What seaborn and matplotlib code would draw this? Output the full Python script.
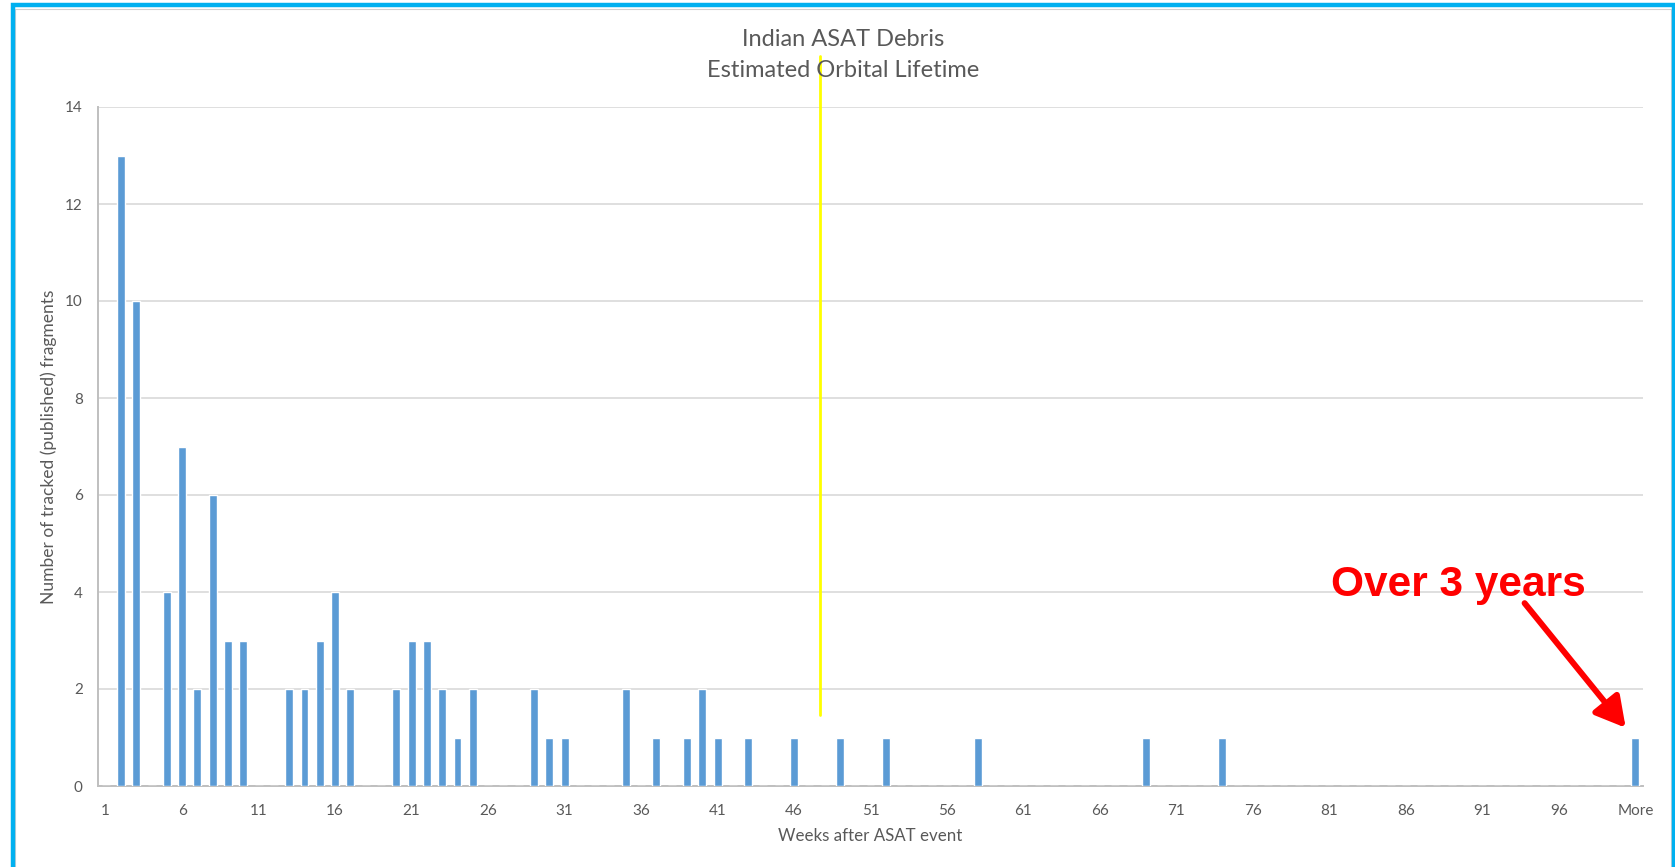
import matplotlib
matplotlib.use("Agg")
import matplotlib.pyplot as plt
from matplotlib.patches import Rectangle
from matplotlib.lines import Line2D
import seaborn as sns

# Histogram bins: weeks after the event, plus an overflow bin
week_bins = [str(w) for w in range(1, 101)] + ["More"]

# Fragment counts per bin (weeks 1..100, then "More")
fragments = [
    0, 13, 10, 0, 4, 7, 2, 6, 3, 3,      # 1-10
    0, 0, 2, 2, 3, 4, 2, 0, 0, 2,        # 11-20
    3, 3, 2, 1, 2, 0, 0, 0, 2, 1,        # 21-30
    1, 0, 0, 0, 2, 0, 1, 0, 1, 2,        # 31-40
    1, 0, 1, 0, 0, 1, 0, 0, 1, 0,        # 41-50
    0, 1, 0, 0, 0, 0, 0, 1, 0, 0,        # 51-60
    0, 0, 0, 0, 0, 0, 0, 0, 1, 0,        # 61-70
    0, 0, 0, 1, 0, 0, 0, 0, 0, 0,        # 71-80
    0, 0, 0, 0, 0, 0, 0, 0, 0, 0,        # 81-90
    0, 0, 0, 0, 0, 0, 0, 0, 0, 0,        # 91-100
    1,                                   # More
]

labelled_bins = week_bins[::5]          # 1, 6, 11, ..., 96, More
y_ticks = [0, 2, 4, 6, 8, 10, 12, 14]

title_lines = ["Indian ASAT Debris", "Estimated Orbital Lifetime"]
x_title = "Weeks after ASAT event"
y_title = "Number of tracked (published) fragments"

# Vertical marker line (in week units) and its vertical extent
marker_week = 47.7
marker_y = (1.46, 15.05)

note_text = "Over 3 years"

BAR = "#5B9BD5"
GRID = "#D9D9D9"
AXIS = "#BFBFBF"
TEXT = "#595959"

sns.set_theme(style="white")
plt.rcParams["font.family"] = ["Lato", "DejaVu Sans"]

W, H = 1675, 867
fig = plt.figure(figsize=(W / 100, H / 100), dpi=100)
fig.patch.set_facecolor("white")

ax = fig.add_axes([98 / W, 1 - 786 / H, (1643 - 98) / W, (786 - 107) / H])

sns.barplot(x=week_bins, y=fragments, color=BAR, width=0.52,
            saturation=1, ax=ax, zorder=3)

ax.set_xlim(-0.5, len(week_bins) - 0.5)
ax.set_ylim(0, 14)
ax.set_yticks(y_ticks)
ax.set_yticklabels([str(v) for v in y_ticks])

ax.set_xticks(range(len(week_bins)))
ax.set_xticklabels([lab if lab in labelled_bins else "" for lab in week_bins])

ax.grid(axis="y", color=GRID, linewidth=1.2, zorder=0)
ax.set_axisbelow(True)
ax.set_xlabel("")
ax.set_ylabel("")

for side in ["top", "right"]:
    ax.spines[side].set_visible(False)
for side in ["left", "bottom"]:
    ax.spines[side].set_color(AXIS)
    ax.spines[side].set_linewidth(1.4)

ax.tick_params(axis="x", direction="in", length=3, width=1.1, color=AXIS,
               labelsize=11, labelcolor=TEXT, pad=13)
ax.tick_params(axis="y", length=0, labelsize=11, labelcolor=TEXT, pad=11)

# Chart title
fig.text(843 / W, 1 - 46 / H, title_lines[0], ha="center", va="baseline",
         fontsize=17, color=TEXT, zorder=1)
fig.text(843 / W, 1 - 77 / H, title_lines[1], ha="center", va="baseline",
         fontsize=17, color=TEXT, zorder=1)

# Axis titles
fig.text(870 / W, 1 - 836 / H, x_title, ha="center", va="center",
         fontsize=12.2, color=TEXT)
fig.text(49 / W, 1 - 446.5 / H, y_title, ha="center", va="center",
         rotation=90, fontsize=12.5, color=TEXT)

# Yellow marker line, running up into the title area
mx = marker_week - 1
ax.add_line(Line2D([mx, mx], list(marker_y), color="#FFFF00", linewidth=2,
                   clip_on=False, zorder=10))

# Red call-out for the overflow bin
more_x = week_bins.index("More")
ax.annotate("", xy=(more_x - 0.63, fragments[more_x] + 0.2),
            xytext=(more_x - 7.24, 3.77),
            arrowprops=dict(arrowstyle="-|>,head_length=0.9,head_width=0.5",
                            mutation_scale=20, color="#FF0000", lw=4.3,
                            shrinkA=0, shrinkB=0),
            annotation_clip=False, zorder=11)
ax.text(more_x - 11.6, 3.92, note_text, ha="center", va="baseline",
        fontsize=30.5, fontweight="bold", color="#FF0000",
        family=["Liberation Sans", "DejaVu Sans"], zorder=11)

# Frame around the chart area
fig.patches.append(Rectangle((12.5 / W, -0.05), (1673.5 - 12.5) / W, 1.05 - 5 / H,
                             transform=fig.transFigure, fill=False,
                             edgecolor="#00B0F0", linewidth=3.2, zorder=20))
fig.patches.append(Rectangle((15.5 / W, -0.05), (1670.5 - 15.5) / W, 1.05 - 8.5 / H,
                             transform=fig.transFigure, fill=False,
                             edgecolor="#D0D0D0", linewidth=0.8, zorder=19))

fig.savefig("out.png", dpi=100, facecolor="white")
